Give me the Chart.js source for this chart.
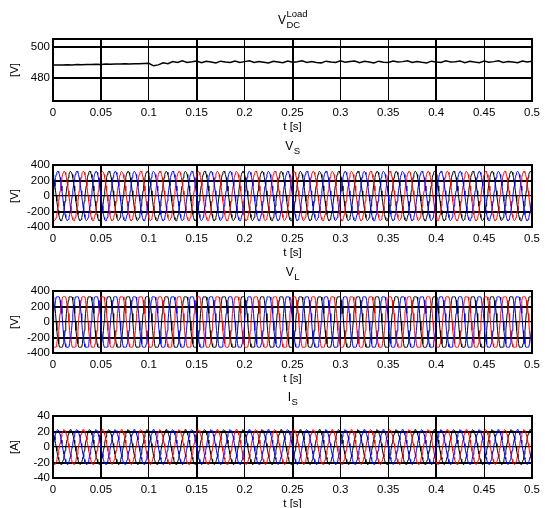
<!DOCTYPE html>
<html>
<head>
<meta charset="utf-8">
<script src="https://cdn.jsdelivr.net/npm/chart.js@4.4.1/dist/chart.umd.min.js"></script>
<style>
html, body { margin:0; padding:0; background:#fff; overflow:hidden; width:545px; height:508px; }
#wrap { position:relative; width:545px; height:508px; }
canvas { position:absolute; left:0; }
</style>
</head>
<body>
<div id="wrap">
  <canvas id="c_vdc" width="545" height="140" style="top:0px"></canvas>
  <canvas id="c_vs" width="545" height="140" style="top:126px"></canvas>
  <canvas id="c_vl" width="545" height="140" style="top:252px"></canvas>
  <canvas id="c_is" width="545" height="140" style="top:377px"></canvas>
</div>
<script>
/* axis ticks */
var xTicks = [0, 0.05, 0.1, 0.15, 0.2, 0.25, 0.3, 0.35, 0.4, 0.45, 0.5];
var xTickLabels = ['0', '0.05', '0.1', '0.15', '0.2', '0.25', '0.3', '0.35', '0.4', '0.45', '0.5'];
var vdcTicks = [480, 500];
var vTicks = [-400, -200, 0, 200, 400];
var iTicks = [-40, -20, 0, 20, 40];

/* DC link voltage, one value every 5 ms */
var vdcStep = 0.005;
var vdcValues = [
  488.2, 488.3, 488.2, 488.4, 488.3, 488.5, 488.4, 488.6, 488.5, 488.7,
  488.6, 488.8, 488.7, 488.9, 488.8, 489.0, 488.9, 489.1, 489.0, 489.2,
  489.3, 487.7, 488.3, 489.6, 489.1, 490.5, 489.8,
  490.9, 489.9, 490.3, 490.8, 489.7, 490.6, 490.2, 489.6, 490.7, 490.1,
  489.8, 490.8, 489.9, 490.4, 490.9, 489.8, 490.5, 490.0, 489.5, 490.6,
  490.2, 489.7, 490.8, 490.0, 490.3, 490.9, 489.8, 490.4, 489.9, 489.6,
  490.7, 490.1, 489.8, 490.9, 490.0, 490.5, 490.8, 489.7, 490.6, 490.2,
  489.6, 490.7, 490.0, 489.9, 490.8, 490.1, 490.4, 490.9, 489.8, 490.5,
  490.0, 489.6, 490.7, 490.2, 489.8, 490.9, 490.1, 490.3, 490.8, 489.7,
  490.6, 490.1, 489.7, 490.8, 490.0, 490.4, 490.9, 489.9, 490.5, 490.1,
  489.7, 490.8, 490.2, 490.6
];

/* one 20 ms cycle of phase a, 30 samples; phases b/c are the same cycle shifted by 1/3 */
var period = 0.02;
var cycles = 25;
var phaseShift = 10;
var vsCycle = [0, 67, 130, 188, 238, 277, 304, 318, 318, 304, 277, 238, 188, 130, 67,
               0, -67, -130, -188, -238, -277, -304, -318, -318, -304, -277, -238, -188, -130, -67];
var vlCycle = [0, 110, 190, 205, 280, 322, 326, 324, 326, 324, 322, 280, 205, 190, 110,
               0, -110, -190, -205, -280, -322, -326, -324, -326, -324, -322, -280, -205, -190, -110];
var isCycle = [0, 5, 9.5, 13, 16.5, 19.5, 21, 22.5, 21.5, 21, 19, 16, 13.5, 9, 4.5,
               0, -5, -9, -13.5, -16, -19.5, -21.5, -22, -22.5, -20.5, -19, -16.5, -12.5, -9.5, -4.5];
var phaseColors = ['#0000ff', '#ff0000', '#000000'];

var xGridWidths = [1, 2, 1, 2, 1, 2, 1, 1, 2, 1, 1];
Chart.defaults.font.family = '"Liberation Sans", Arial, sans-serif';
Chart.defaults.font.size = 11.5;
Chart.defaults.color = '#000';

function threePhase(cycle) {
    var n = cycle.length;
    var shifts = [0, -phaseShift, phaseShift];
    return shifts.map(function(sh, p) {
        var pts = [];
        for (var i = 0; i <= n * cycles; i++) {
            pts.push({x: i * period / n, y: cycle[((i + sh) % n + n) % n]});
        }
        return {data: pts, borderColor: phaseColors[p], borderWidth: 1, pointRadius: 0};
    });
}

/* box round the plot area */
var framePlugin = {
    id: 'frame',
    afterDatasetsDraw: function(chart) {
        var a = chart.chartArea, ctx = chart.ctx;
        ctx.save();
        ctx.strokeStyle = '#000';
        ctx.lineWidth = 2;
        ctx.strokeRect(a.left, a.top, a.right - a.left, a.bottom - a.top);
        ctx.restore();
    }
};

/* title with subscript / superscript */
var titlePlugin = {
    id: 'mtitle',
    afterDraw: function(chart, args, opts) {
        var ctx = chart.ctx, a = chart.chartArea;
        var cx = (a.left + a.right) / 2, by = a.top - 15;
        var big = '12px "Liberation Sans", Arial, sans-serif';
        var small = '9.5px "Liberation Sans", Arial, sans-serif';
        ctx.save();
        ctx.fillStyle = '#000';
        ctx.textAlign = 'left';
        ctx.textBaseline = 'alphabetic';
        ctx.font = big;
        var wm = ctx.measureText(opts.main).width;
        ctx.font = small;
        var ws = opts.sub ? ctx.measureText(opts.sub).width : 0;
        var wp = opts.sup ? ctx.measureText(opts.sup).width : 0;
        var x0 = cx - (wm + Math.max(ws, wp)) / 2;
        ctx.font = big;
        ctx.fillText(opts.main, x0, by);
        ctx.font = small;
        if (opts.sub) ctx.fillText(opts.sub, x0 + wm + 0.5, by + 3.5);
        if (opts.sup) ctx.fillText(opts.sup, x0 + wm + 0.5, by - 7);
        ctx.restore();
    }
};

function makeChart(id, datasets, yMin, yMax, yTicks, yTitle, title) {
    return new Chart(document.getElementById(id), {
        type: 'line',
        data: {datasets: datasets},
        options: {
            responsive: false,
            animation: false,
            devicePixelRatio: 1,
            events: [],
            layout: {padding: {top: 39, right: 12, left: 0, bottom: 0}},
            elements: {point: {radius: 0}, line: {tension: 0}},
            plugins: {legend: {display: false}, tooltip: {enabled: false}, mtitle: title},
            scales: {
                x: {
                    type: 'linear', min: 0, max: 0.5,
                    afterBuildTicks: function(s) { s.ticks = xTicks.map(function(v) { return {value: v}; }); },
                    afterFit: function(s) { s.height = 39; },
                    ticks: {autoSkip: false, maxRotation: 0, padding: 5, color: '#000',
                            callback: function(v, i) { return xTickLabels[i]; }},
                    grid: {color: '#000', drawTicks: false,
                           lineWidth: function(c) { return xGridWidths[c.index] || 1; }},
                    border: {display: false},
                    title: {display: true, text: 't [s]', color: '#000', padding: {top: 0, bottom: 6}}
                },
                y: {
                    min: yMin, max: yMax,
                    afterBuildTicks: function(s) { s.ticks = yTicks.map(function(v) { return {value: v}; }); },
                    afterFit: function(s) { s.width = 53; },
                    ticks: {autoSkip: false, padding: 3, color: '#000', callback: function(v) { return String(v); }},
                    grid: {color: '#000', drawTicks: false,
                           lineWidth: function(c) { return (c.tick && c.tick.value === 0) ? 1.3 : 2; }},
                    border: {display: false},
                    title: {display: true, text: yTitle, color: '#000', padding: {top: 8, bottom: 0}}
                }
            }
        },
        plugins: [framePlugin, titlePlugin]
    });
}

var vdcData = vdcValues.map(function(v, i) { return {x: i * vdcStep, y: v}; });
makeChart('c_vdc', [{data: vdcData, borderColor: '#000', borderWidth: 1.5, pointRadius: 0}],
          465, 505, vdcTicks, '[V]', {main: 'V', sub: 'DC', sup: 'Load'});
makeChart('c_vs', threePhase(vsCycle), -400, 400, vTicks, '[V]', {main: 'V', sub: 'S'});
makeChart('c_vl', threePhase(vlCycle), -400, 400, vTicks, '[V]', {main: 'V', sub: 'L'});
makeChart('c_is', threePhase(isCycle), -40, 40, iTicks, '[A]', {main: 'I', sub: 'S'});
</script>
</body>
</html>
